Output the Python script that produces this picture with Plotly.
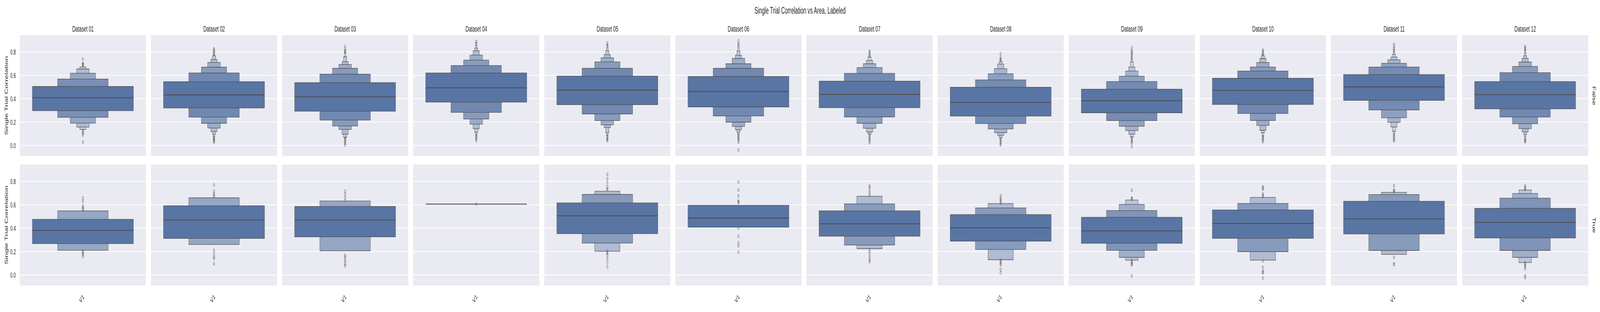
import plotly.graph_objects as go

# ---------------- data ----------------
datasets = ["Dataset 01", "Dataset 02", "Dataset 03", "Dataset 04", "Dataset 05", "Dataset 06",
            "Dataset 07", "Dataset 08", "Dataset 09", "Dataset 10", "Dataset 11", "Dataset 12"]
row_labels = ["False", "True"]
category = ["V1"]
y_ticks = [0.0, 0.2, 0.4, 0.6, 0.8]

# Labeled == False : letter values (level 1 = IQR box, outward)
false_median = [0.409, 0.433, 0.417, 0.494, 0.474, 0.461, 0.437, 0.369, 0.382, 0.472, 0.501, 0.435]
false_lower = [
    [0.298, 0.241, 0.191, 0.158, 0.138],
    [0.321, 0.243, 0.190, 0.150, 0.120, 0.097, 0.078],
    [0.294, 0.218, 0.167, 0.138, 0.097, 0.071, 0.063],
    [0.371, 0.284, 0.227, 0.183, 0.144, 0.113, 0.090],
    [0.350, 0.270, 0.214, 0.177, 0.154, 0.111, 0.088],
    [0.330, 0.253, 0.200, 0.164, 0.135, 0.113, 0.094],
    [0.324, 0.245, 0.190, 0.148, 0.116, 0.097],
    [0.252, 0.188, 0.142, 0.110, 0.087, 0.068],
    [0.280, 0.214, 0.165, 0.129, 0.098, 0.073],
    [0.351, 0.275, 0.215, 0.172, 0.131, 0.110, 0.081],
    [0.386, 0.305, 0.238, 0.199, 0.159, 0.121],
    [0.314, 0.244, 0.186, 0.145, 0.117, 0.095, 0.079],
]
false_upper = [
    [0.505, 0.569, 0.618, 0.655, 0.672],
    [0.546, 0.620, 0.670, 0.710, 0.736, 0.767, 0.778],
    [0.538, 0.610, 0.660, 0.693, 0.717, 0.759, 0.795],
    [0.620, 0.684, 0.730, 0.773, 0.810, 0.833, 0.855],
    [0.594, 0.660, 0.715, 0.750, 0.777, 0.811, 0.836],
    [0.590, 0.660, 0.699, 0.744, 0.772, 0.808, 0.846],
    [0.550, 0.617, 0.666, 0.699, 0.727, 0.757],
    [0.499, 0.561, 0.614, 0.657, 0.696, 0.717],
    [0.482, 0.547, 0.593, 0.636, 0.671, 0.715],
    [0.575, 0.637, 0.671, 0.709, 0.744, 0.768, 0.780],
    [0.607, 0.671, 0.703, 0.733, 0.756, 0.779],
    [0.547, 0.623, 0.676, 0.714, 0.745, 0.767, 0.790],
]
false_outliers = [
    [0.686, 0.690, 0.695, 0.700, 0.738, 0.130, 0.120, 0.105, 0.090, 0.031],
    [0.785, 0.795, 0.805, 0.815, 0.827, 0.072, 0.065, 0.058, 0.050, 0.040, 0.031],
    [0.800, 0.810, 0.825, 0.846, 0.058, 0.045, 0.035, 0.020, 0.005],
    [0.865, 0.875, 0.890, 0.085, 0.075, 0.065, 0.055, 0.043],
    [0.848, 0.860, 0.875, 0.082, 0.070, 0.060, 0.050, 0.043],
    [0.858, 0.870, 0.895, 0.088, 0.078, 0.068, 0.058, 0.048, 0.031, -0.038],
    [0.763, 0.772, 0.782, 0.795, 0.808, 0.092, 0.080, 0.068, 0.055, 0.040, 0.024],
    [0.725, 0.732, 0.740, 0.752, 0.783, 0.061, 0.050, 0.040, 0.030, 0.018, 0.007],
    [0.725, 0.740, 0.755, 0.770, 0.785, 0.800, 0.810, 0.837, 0.068, 0.055, 0.045, 0.035, 0.020, -0.011],
    [0.785, 0.795, 0.805, 0.817, 0.075, 0.065, 0.055, 0.045, 0.034],
    [0.793, 0.805, 0.815, 0.830, 0.848, 0.867, 0.108, 0.095, 0.080, 0.065, 0.050, 0.041],
    [0.806, 0.815, 0.825, 0.835, 0.847, 0.068, 0.058, 0.048, 0.040, 0.034],
]

# Labeled == True
true_median = [0.382, 0.470, 0.470, 0.606, 0.506, 0.487, 0.438, 0.404, 0.377, 0.441, 0.480, 0.450]
true_lower = [
    [0.269, 0.212],
    [0.313, 0.261],
    [0.326, 0.206],
    [0.606],
    [0.354, 0.273, 0.203],
    [0.409],
    [0.332, 0.256, 0.225],
    [0.290, 0.219, 0.131],
    [0.271, 0.211, 0.151, 0.127],
    [0.314, 0.200, 0.127],
    [0.351, 0.210, 0.176],
    [0.317, 0.210, 0.151, 0.107],
]
true_upper = [
    [0.476, 0.549],
    [0.592, 0.660],
    [0.586, 0.633],
    [0.606],
    [0.617, 0.689, 0.716],
    [0.596],
    [0.549, 0.609, 0.674],
    [0.517, 0.574, 0.611],
    [0.494, 0.551, 0.604, 0.641],
    [0.556, 0.612, 0.664],
    [0.630, 0.688, 0.707],
    [0.570, 0.657, 0.697, 0.727],
]
true_outliers = [
    [0.555, 0.565, 0.575, 0.591, 0.630, 0.658, 0.205, 0.195, 0.185, 0.172, 0.158],
    [0.673, 0.680, 0.696, 0.715, 0.769, 0.213, 0.183, 0.154, 0.141, 0.097],
    [0.638, 0.661, 0.689, 0.717, 0.169, 0.154, 0.135, 0.116, 0.097, 0.080],
    [0.606],
    [0.727, 0.735, 0.755, 0.789, 0.823, 0.861, 0.208, 0.195, 0.185, 0.167, 0.135, 0.103, 0.069],
    [0.619, 0.625, 0.632, 0.676, 0.727, 0.795, 0.403, 0.332, 0.275, 0.250, 0.197],
    [0.680, 0.700, 0.720, 0.745, 0.760, 0.220, 0.200, 0.180, 0.150, 0.130, 0.115],
    [0.615, 0.630, 0.645, 0.660, 0.679, 0.128, 0.115, 0.100, 0.087, 0.046, 0.019],
    [0.645, 0.652, 0.658, 0.724, 0.125, 0.115, 0.105, 0.095, 0.087, -0.008],
    [0.670, 0.680, 0.693, 0.733, 0.745, 0.754, 0.121, 0.067, 0.033, 0.025, 0.019, -0.026],
    [0.712, 0.720, 0.727, 0.763, 0.152, 0.094, 0.090],
    [0.730, 0.740, 0.750, 0.761, 0.105, 0.095, 0.085, 0.070, 0.053, -0.008, -0.022],
]

# ---------------- style ----------------
W, H = 7200, 800
LEFT, PANEL_W, GAP = 89, 568, 22
ROW_PX = [(90, 400), (422, 732)]
Y_RANGE = [-0.089, 0.944]
BOX_W = 0.8
MAIN = (89, 117, 164)
LIGHT = (234, 237, 243)
EDGE = "#4e4e4e"
FLIER = "#737373"
TEXT = "#262626"
FONT = "Liberation Sans, Arial, sans-serif"


def level_colors(k):
    cols = []
    for i in range(k):
        v = 2 ** ((k - 1 - i + 2) / (k + 1)) - 1
        c = [round(g + v * (m - g)) for m, g in zip(MAIN, LIGHT)]
        cols.append("rgb(%d,%d,%d)" % tuple(c))
    return cols


fig = go.Figure()
row_data = [
    (false_median, false_lower, false_upper, false_outliers),
    (true_median, true_lower, true_upper, true_outliers),
]

layout = {}
for r, (meds, lows, ups, outs) in enumerate(row_data):
    top_px, bot_px = ROW_PX[r]
    for c in range(len(datasets)):
        n = r * len(datasets) + c + 1
        xa = "x" if n == 1 else "x%d" % n
        ya = "y" if n == 1 else "y%d" % n
        x0 = (LEFT + c * (PANEL_W + GAP)) / W
        x1 = (LEFT + c * (PANEL_W + GAP) + PANEL_W) / W
        layout["xaxis" if n == 1 else "xaxis%d" % n] = dict(
            domain=[x0, x1], anchor=ya, range=[-0.5, 0.5],
            tickvals=[0], ticktext=category,
            showticklabels=(r == 1), tickangle=-45,
            tickfont=dict(size=18, color=TEXT, family=FONT),
            ticklabelstandoff=14,
            showgrid=False, zeroline=False, showline=False, ticks="",
        )
        layout["yaxis" if n == 1 else "yaxis%d" % n] = dict(
            domain=[1 - bot_px / H, 1 - top_px / H], anchor=xa, range=Y_RANGE,
            tickvals=y_ticks, ticktext=["%.1f" % t for t in y_ticks],
            showticklabels=(c == 0),
            tickfont=dict(size=18, color=TEXT, family=FONT),
            ticklabelstandoff=17,
            showgrid=True, gridcolor="white", gridwidth=1.7,
            zeroline=False, showline=False, ticks="",
        )
        lo, hi = lows[c], ups[c]
        k = len(lo)
        cols = level_colors(k)
        widths = [BOX_W / 2 ** i for i in range(k)]
        # outer (narrow) levels first so the IQR box sits on top
        for i in reversed(range(k)):
            fig.add_trace(go.Bar(
                x=[0], base=[lo[i]], y=[hi[i] - lo[i]], width=[widths[i]],
                marker=dict(color=cols[i], line=dict(color=EDGE, width=1.3)),
                xaxis=xa, yaxis=ya, showlegend=False, hoverinfo="skip",
            ))
        fig.add_trace(go.Scatter(
            x=[-BOX_W / 2, BOX_W / 2], y=[meds[c], meds[c]], mode="lines",
            line=dict(color=EDGE, width=2.2),
            xaxis=xa, yaxis=ya, showlegend=False, hoverinfo="skip",
        ))
        fig.add_trace(go.Scatter(
            x=[0] * len(outs[c]), y=outs[c], mode="markers",
            marker=dict(symbol="circle-open", size=7, color=FLIER, line=dict(width=1.4)),
            xaxis=xa, yaxis=ya, showlegend=False, hoverinfo="skip",
        ))

annotations = []
# suptitle
annotations.append(dict(text="Single Trial Correlation vs Area, Labeled", x=0.5, y=1 - 27 / H,
                        xref="paper", yref="paper", showarrow=False, xanchor="center", yanchor="middle",
                        font=dict(size=23, color=TEXT, family=FONT)))
# column titles
for c, name in enumerate(datasets):
    cx = (LEFT + c * (PANEL_W + GAP) + PANEL_W / 2) / W
    annotations.append(dict(text=name, x=cx, y=1 - 74 / H, xref="paper", yref="paper",
                            showarrow=False, xanchor="center", yanchor="middle",
                            font=dict(size=20, color=TEXT, family=FONT)))
# row labels and y-axis titles
for r, lab in enumerate(row_labels):
    top_px, bot_px = ROW_PX[r]
    cy = 1 - (top_px + bot_px) / 2 / H
    annotations.append(dict(text=lab, x=7173 / W, y=cy, xref="paper", yref="paper",
                            showarrow=False, textangle=90, xanchor="center", yanchor="middle",
                            font=dict(size=20, color=TEXT, family=FONT)))
    annotations.append(dict(text="Single Trial Correlation", x=29 / W, y=cy, xref="paper", yref="paper",
                            showarrow=False, textangle=-90, xanchor="center", yanchor="middle",
                            font=dict(size=20, color=TEXT, family=FONT)))

fig.update_layout(
    width=W, height=H, margin=dict(l=0, r=0, t=0, b=0),
    paper_bgcolor="white", plot_bgcolor="#eaeaf2",
    barmode="overlay", showlegend=False, annotations=annotations,
    font=dict(family=FONT, color=TEXT),
    **layout,
)

# keep the whole 7200x800 figure inside the browser window, even if the
# window is narrower than the figure (the page is never scaled up)
fit_js = """
var gd = document.getElementById('{plot_id}');
document.body.style.margin = '0';
var sx = Math.min(1, window.innerWidth / %d);
var sy = Math.min(1, window.innerHeight / %d);
if (sx < 1 || sy < 1) {
    document.documentElement.style.overflow = 'hidden';
    document.body.style.overflow = 'hidden';
    gd.style.transformOrigin = '0 0';
    gd.style.transform = 'scale(' + sx + ',' + sy + ')';
}
""" % (W, H)
fig.write_html("out.html", post_script=fit_js, config={"displayModeBar": False})
